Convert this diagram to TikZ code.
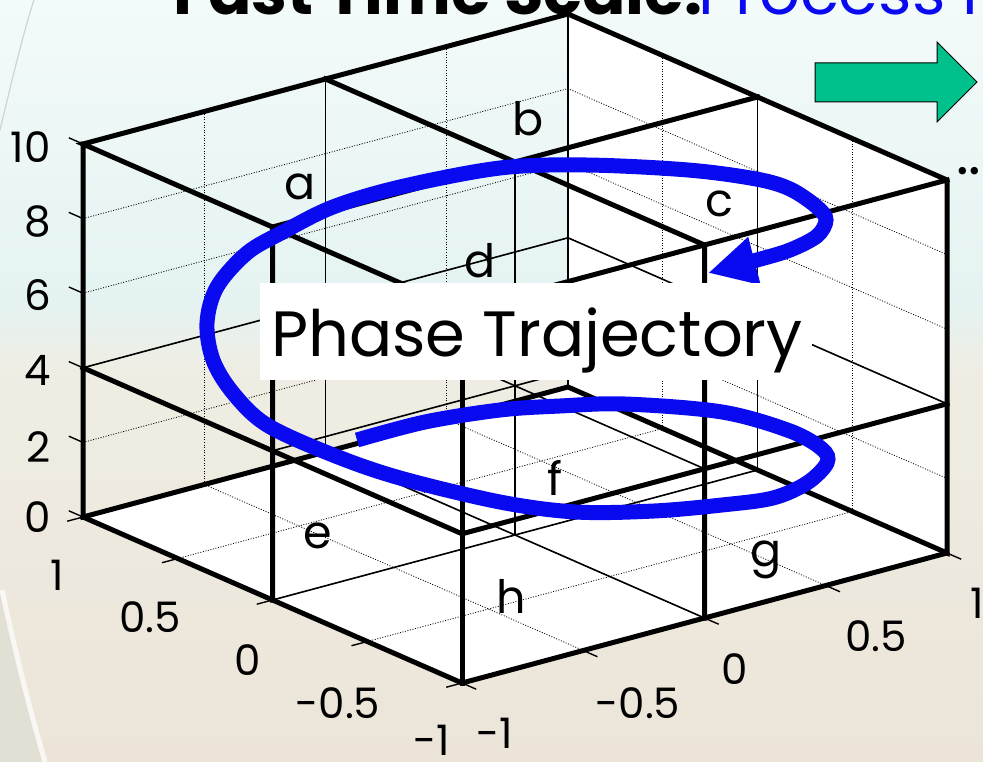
\documentclass[tikz,border=0pt]{standalone}
\usepackage{fontspec}
\setmainfont{Poppins}
\usepackage{tikz}
\usetikzlibrary{arrows.meta}
\definecolor{trajblue}{RGB}{10,10,240}
\definecolor{arrowgreen}{RGB}{0,192,140}
\definecolor{skytop}{RGB}{243,250,250}
\definecolor{skymid}{RGB}{228,243,241}
\definecolor{sandtop}{RGB}{239,237,227}
\definecolor{sandbot}{RGB}{236,228,216}
\definecolor{sandleft}{RGB}{226,224,212}

\begin{document}
\begin{tikzpicture}[x=1pt,y=-1pt,
    edge/.style={line width=5pt,line cap=rect},
    inner/.style={line width=1.6pt},
    grid/.style={line width=0.8pt,dash pattern=on 1pt off 1.6pt},
    tick/.style={line width=1.4pt},
    ticklbl/.style={inner sep=0pt,font=\fontsize{42}{42}\selectfont},
    cell/.style={inner sep=0pt,anchor=base,font=\fontsize{46}{46}\selectfont}]
  \useasboundingbox (0,0) rectangle (983,762);
  \clip (0,0) rectangle (983,762);
  \shade[top color=skytop,bottom color=skymid] (0,0) rectangle (983,301);
  \shade[top color=skymid,bottom color=sandtop] (0,300) rectangle (983,371);
  \shade[top color=sandtop,bottom color=sandbot] (0,370) rectangle (983,762);
  \fill[sandleft] (0,590) .. controls (15,660) and (28,710) .. (42,762) -- (0,762) -- cycle;
  \draw[white,line width=5pt,opacity=0.7] (2,590) .. controls (17,660) and (30,710) .. (45,762);
  \draw[gray!35,line width=1.2pt] (34,0) .. controls (24,30) and (12,80) .. (0,130);

  \begin{scope}[shift={(515,535)},x={(242.5pt,65pt)},y={(-189.5pt,83pt)},z={(0pt,37.3pt)}]
    \fill[white] (-1,1,0) -- (-1,-1,0) -- (1,-1,0) -- (1,1,0) -- cycle;
    \fill[white] (1,1,0) -- (1,-1,0) -- (1,-1,10) -- (1,1,10) -- cycle;
    \foreach \t in {-0.5,0,0.5} {
      \draw[grid] (\t,1,0) -- (\t,1,10);
      \draw[grid] (1,\t,0) -- (1,\t,10);
      \draw[grid] (\t,-1,0) -- (\t,1,0);
      \draw[grid] (-1,\t,0) -- (1,\t,0);
    }
    \foreach \z in {2,4,6,8}
      \draw[grid] (-1,1,\z) -- (1,1,\z) -- (1,-1,\z);
    \foreach \p/\q in {0/1,1/0,0/0,1/1}
      \draw[inner] (\p,\q,0) -- (\p,\q,10);
    \draw[inner] (-1,1,4) -- (1,1,4) -- (1,-1,4);
    \draw[inner] (-1,0,4) -- (1,0,4);
    \draw[inner] (0,-1,4) -- (0,1,4);
    \draw[inner] (-1,0,0) -- (1,0,0);
    \draw[inner] (0,-1,0) -- (0,1,0);
    \draw[edge] (-1,1,10) -- (-1,1,0) -- (1,1,0) -- (1,-1,0) -- (1,-1,10) -- (1,1,10) -- (-1,1,10) -- (-1,-1,10) -- (1,-1,10);
    \draw[edge] (-1,1,0) -- (-1,-1,0) -- (1,-1,0);
    \draw[edge] (-1,-1,0) -- (-1,-1,10);
    \draw[edge] (0,1,10) -- (0,-1,10) -- (0,-1,0);
    \draw[edge] (-1,0,0) -- (-1,0,10) -- (1,0,10);
    \draw[edge] (-1,1,4) -- (-1,-1,4) -- (1,-1,4);
    \foreach \z in {0,2,...,10}
      \draw[tick] (-1,1,\z) -- (-1,1.075,\z);
    \foreach \t in {-1,-0.5,0,0.5,1} {
      \draw[tick] (-1,\t,0) -- (-1.065,\t,0);
      \draw[tick] (\t,-1,0) -- (\t,-1.075,0);
    }
  \end{scope}

  \foreach \v/\py in {0/517,2/447,4/370,6/295,8/222,10/147}
    \node[ticklbl,anchor=east] at (51,\py) {\v};
  \foreach \v/\px/\py in {1/57/575,0.5/150/617,0/248/660,-0.5/338/703,-1/432/740}
    \node[ticklbl] at (\px,\py) {\v};
  \foreach \v/\px/\py in {-1/495/733,-0.5/638/703,0/735/669,0.5/876/636,1/977/603}
    \node[ticklbl] at (\px,\py) {\v};

  \node[cell] (a) at (300,200) {a};
  \node[cell] (b) at (528,136) {b};
  \node[cell] (c) at (719,217) {c};
  \node[cell] (d) at (480,277) {d};
  \node[cell] (e) at (318,548) {e};
  \node[cell] (f) at (555,495) {f};
  \node[cell] (g) at (766,566) {g};
  \node[cell] (h) at (511,613) {h};

  \draw[trajblue,line width=15pt,-{Triangle[length=48pt,width=46pt]}]
    plot[smooth,tension=0.55] coordinates {(357,440) (425,422) (500,410) (560,406) (625,404)
      (722,412) (790,431) (822,449) (827,463) (807,483) (773,498) (722,505) (654,511)
      (576,512) (500,502) (400,478) (333,455) (267,425) (233,393) (213,360) (207,323)
      (217,287) (247,253) (283,232) (333,207) (400,187) (500,168) (586,165) (688,170)
      (756,179) (790,189) (817,207) (826,220) (817,236) (790,250) (757,260) (708,273)};

  \fill[white] (260,283) rectangle (812,380);
  \node[inner sep=0pt,anchor=base,font=\fontsize{64}{64}\selectfont] (phase) at (537,356) {Phase Trajectory};

  \draw[fill=arrowgreen,line width=1pt] (815,63) -- (937,63) -- (937,42) -- (977,82)
    -- (937,122) -- (937,102) -- (815,102) -- cycle;
  \node[inner sep=0pt,anchor=base west,font=\bfseries\fontsize{64}{64}\selectfont] (title) at (173,15) {Fast Time Scale:};
  \node[inner sep=0pt,anchor=base west,text=trajblue,font=\fontsize{64}{64}\selectfont] (proc) at (698,15) {Process I};
  \node[inner sep=0pt,anchor=base west,font=\fontsize{60}{60}\selectfont] (more) at (956,175) {...};
\end{tikzpicture}
\end{document}
